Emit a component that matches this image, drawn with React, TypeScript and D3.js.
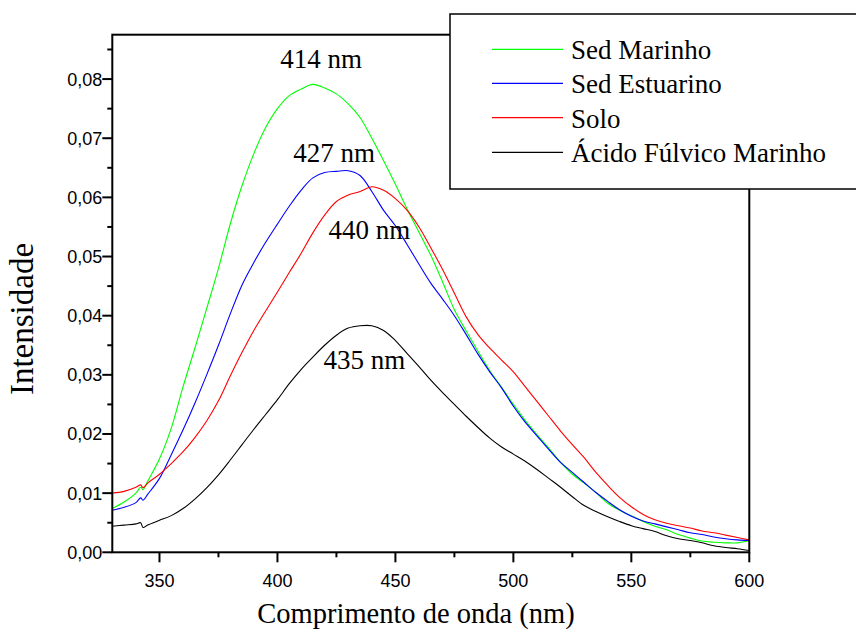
import React from "react";
import * as d3 from "d3";

// Wavelength grid (nm) shared by every spectrum
const wavelengths = [
  330, 335, 340, 342, 343, 345, 350, 355, 360, 365, 370, 375, 380, 385, 390, 395,
  400, 405, 410, 415, 420, 425, 430, 435, 440, 445, 450, 455, 460, 465, 470, 475,
  480, 485, 490, 495, 500, 505, 510, 515, 520, 525, 530, 535, 540, 545, 550, 555,
  560, 565, 570, 575, 580, 585, 590, 595, 600,
];

const sedMarinho = [
  0.0074, 0.0085, 0.01, 0.011, 0.0106, 0.012, 0.0158, 0.021, 0.028, 0.0345, 0.0412, 0.048,
  0.0555, 0.062, 0.0674, 0.0718, 0.075, 0.0772, 0.0783, 0.0791, 0.0785, 0.0775, 0.0758,
  0.0735, 0.07, 0.0662, 0.0622, 0.058, 0.0541, 0.0502, 0.0457, 0.041, 0.0374, 0.034, 0.0307,
  0.0279, 0.025, 0.0223, 0.0199, 0.0176, 0.0152, 0.0132, 0.0117, 0.0101, 0.0083, 0.0071,
  0.0062, 0.0052, 0.0044, 0.0038, 0.003, 0.0024, 0.0019, 0.0017, 0.0016, 0.0016, 0.002,
];

const sedEstuarino = [
  0.0071, 0.0076, 0.0084, 0.0092, 0.0088, 0.0098, 0.0125, 0.0165, 0.0207, 0.0252, 0.03,
  0.035, 0.0403, 0.0452, 0.049, 0.0524, 0.0555, 0.0585, 0.0612, 0.0633, 0.0642, 0.0644,
  0.0645, 0.0637, 0.061, 0.0578, 0.0552, 0.052, 0.0487, 0.0455, 0.0428, 0.04, 0.0368,
  0.0335, 0.0305, 0.0278, 0.0247, 0.022, 0.0197, 0.0174, 0.0152, 0.0135, 0.0118, 0.0101,
  0.0086, 0.0072, 0.0061, 0.0053, 0.0048, 0.0043, 0.0038, 0.0033, 0.003, 0.0026, 0.0023,
  0.0021, 0.002,
];

const solo = [
  0.01, 0.0103, 0.011, 0.0114, 0.0109, 0.0117, 0.0132, 0.015, 0.017, 0.0194, 0.0222, 0.0256,
  0.0298, 0.0338, 0.0375, 0.0408, 0.044, 0.0473, 0.0505, 0.054, 0.057, 0.0593, 0.0604,
  0.061, 0.0618, 0.0612, 0.0598, 0.0578, 0.055, 0.0515, 0.0478, 0.0438, 0.0398, 0.0368,
  0.0345, 0.0325, 0.0305, 0.028, 0.0255, 0.023, 0.0205, 0.0182, 0.016, 0.0135, 0.0113,
  0.0093, 0.0077, 0.0064, 0.0055, 0.0049, 0.0045, 0.0041, 0.0036, 0.0033, 0.0029, 0.0025,
  0.0021,
];

const acidoFulvico = [
  0.0044, 0.0046, 0.0048, 0.005, 0.0042, 0.0046, 0.0054, 0.0062, 0.0074, 0.009, 0.0109,
  0.0131, 0.0156, 0.0182, 0.0208, 0.0233, 0.0258, 0.0285, 0.0309, 0.033, 0.035, 0.0367,
  0.0379, 0.0383, 0.0383, 0.0375, 0.0358, 0.0336, 0.0314, 0.0291, 0.027, 0.025, 0.023,
  0.0211, 0.0193, 0.0178, 0.0166, 0.0154, 0.014, 0.0125, 0.011, 0.0094, 0.0079, 0.0069,
  0.006, 0.0052, 0.0045, 0.004, 0.0035, 0.0028, 0.0023, 0.002, 0.0016, 0.0011, 0.0008,
  0.0006, 0.0003,
];

const seriesNames = ["Sed Marinho", "Sed Estuarino", "Solo", "Ácido Fúlvico Marinho"];
const seriesColors = ["#00ff00", "#0000ff", "#ff0000", "#000000"];
const seriesValues = [sedMarinho, sedEstuarino, solo, acidoFulvico];

// Peak annotations: label, anchor wavelength, anchor intensity
const peakLabels = ["414 nm", "427 nm", "440 nm", "435 nm"];
const peakX = [418.5, 424, 439, 436.8];
const peakY = [0.0818, 0.066, 0.053, 0.031];

const xMajorTicks = [350, 400, 450, 500, 550, 600];
const xMinorTicks = [375, 425, 475, 525, 575];
const yMajorTicks = [0, 0.01, 0.02, 0.03, 0.04, 0.05, 0.06, 0.07, 0.08];
const yMinorTicks = [0.005, 0.015, 0.025, 0.035, 0.045, 0.055, 0.065, 0.075, 0.085];

const W = 856;
const H = 637;
const left = 112.3;
const right = 749.3;
const top = 34.7;
const bottom = 552.3;

export default function App() {
  const x = d3.scaleLinear().domain([330, 600]).range([left, right]);
  const y = d3.scaleLinear().domain([0, 0.0875]).range([bottom, top]);
  const fmt = (v: number) => d3.format(".2f")(v).replace(".", ",");

  const line = d3
    .line<number>()
    .x((_, i) => x(wavelengths[i]))
    .y((d) => y(d))
    .curve(d3.curveCatmullRom.alpha(0.5));

  const serif = "'Liberation Serif', 'Times New Roman', serif";
  const sans = "'Liberation Sans', Arial, sans-serif";

  const legendX = 450;
  const legendY = 14;
  const legendRows = [49.3, 83.3, 117.7, 152.3];

  return (
    <svg
      width={W}
      height={H}
      style={{ position: "absolute", left: 0, top: 0, background: "#fff" }}
    >
      <rect x={0} y={0} width={W} height={H} fill="#fff" />

      {/* spectra */}
      {seriesValues.map((vals, i) => (
        <path
          key={seriesNames[i]}
          d={line(vals) || ""}
          fill="none"
          stroke={seriesColors[i]}
          strokeWidth={1.1}
        />
      ))}

      {/* frame */}
      <rect
        x={left}
        y={top}
        width={right - left}
        height={bottom - top}
        fill="none"
        stroke="#000"
        strokeWidth={2}
      />

      {/* y axis ticks */}
      {yMajorTicks.map((t) => (
        <g key={"ym" + t}>
          <line x1={left - 10} x2={left} y1={y(t)} y2={y(t)} stroke="#000" strokeWidth={2} />
          <text
            x={left - 10}
            y={y(t) + 6.5}
            textAnchor="end"
            fontFamily={sans}
            fontSize={18}
            fill="#000"
          >
            {fmt(t)}
          </text>
        </g>
      ))}
      {yMinorTicks.map((t) => (
        <line key={"yn" + t} x1={left - 5} x2={left} y1={y(t)} y2={y(t)} stroke="#000" strokeWidth={2} />
      ))}

      {/* x axis ticks */}
      {xMajorTicks.map((t) => (
        <g key={"xm" + t}>
          <line x1={x(t)} x2={x(t)} y1={bottom} y2={bottom + 10} stroke="#000" strokeWidth={2} />
          <text
            x={x(t)}
            y={586.5}
            textAnchor="middle"
            fontFamily={sans}
            fontSize={18}
            fill="#000"
          >
            {t}
          </text>
        </g>
      ))}
      {xMinorTicks.map((t) => (
        <line key={"xn" + t} x1={x(t)} x2={x(t)} y1={bottom} y2={bottom + 5} stroke="#000" strokeWidth={2} />
      ))}

      {/* axis titles */}
      <text
        x={416}
        y={623}
        textAnchor="middle"
        fontFamily={serif}
        fontSize={28.5}
        fill="#000"
      >
        Comprimento de onda (nm)
      </text>
      <text
        transform={`translate(33,319) rotate(-90)`}
        textAnchor="middle"
        fontFamily={serif}
        fontSize={33}
        fill="#000"
      >
        Intensidade
      </text>

      {/* peak labels */}
      {peakLabels.map((lbl, i) => (
        <text
          key={lbl}
          x={x(peakX[i])}
          y={y(peakY[i])}
          textAnchor="middle"
          fontFamily={serif}
          fontSize={27}
          fill="#000"
        >
          {lbl}
        </text>
      ))}

      {/* legend */}
      <rect
        x={legendX}
        y={legendY}
        width={W - legendX + 2}
        height={189 - legendY}
        fill="#fff"
        stroke="#000"
        strokeWidth={1.5}
      />
      {seriesNames.map((name, i) => (
        <g key={"lg" + name}>
          <line
            x1={492}
            x2={563}
            y1={legendRows[i]}
            y2={legendRows[i]}
            stroke={seriesColors[i]}
            strokeWidth={1.2}
          />
          <text
            x={571}
            y={legendRows[i] + 10}
            fontFamily={serif}
            fontSize={27}
            fill="#000"
          >
            {name}
          </text>
        </g>
      ))}
    </svg>
  );
}
